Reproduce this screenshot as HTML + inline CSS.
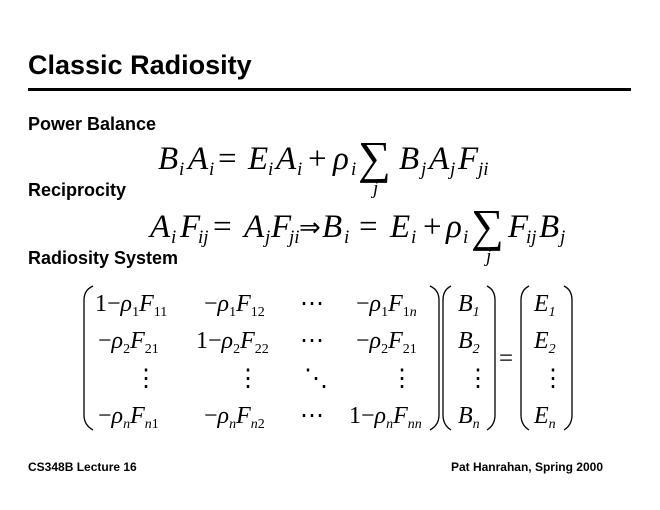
<!DOCTYPE html>
<html><head><meta charset="utf-8"><style>
html,body{margin:0;padding:0;background:#fff;}
svg{display:block;}
.h{font-family:"Liberation Sans",sans-serif;font-weight:bold;fill:#000;}
.m{font-family:"Liberation Serif",serif;font-style:italic;fill:#000;}
.r{font-family:"Liberation Serif",serif;fill:#000;}
</style></head><body>
<svg width="660" height="510" viewBox="0 0 660 510" xmlns="http://www.w3.org/2000/svg">
<text class="h" x="28" y="74" font-size="27">Classic Radiosity</text>
<rect x="28" y="88" width="603" height="3" fill="#000"/>
<text class="h" x="28" y="130" font-size="18">Power Balance</text>
<text class="h" x="28" y="196" font-size="18">Reciprocity</text>
<text class="h" x="28" y="264" font-size="18">Radiosity System</text>

<!-- Eq1 -->
<g font-size="33">
<text class="m" x="158" y="169">B</text><text class="m" x="179" y="175" font-size="19">i</text>
<text class="m" x="188" y="169">A</text><text class="m" x="209" y="175" font-size="19">i</text>
<text class="r" x="218" y="169">=</text>
<text class="m" x="248" y="169">E</text><text class="m" x="268" y="175" font-size="19">i</text>
<text class="m" x="276" y="169">A</text><text class="m" x="297" y="175" font-size="19">i</text>
<text class="r" x="308" y="169">+</text>
<text class="m" x="333" y="169">ρ</text><text class="m" x="351" y="175" font-size="19">i</text>
<text class="r" x="358" y="173" font-size="46">∑</text>
<text class="m" x="373" y="194" font-size="19">j</text>
<text class="m" x="399" y="169">B</text><text class="m" x="421" y="175" font-size="19">j</text>
<text class="m" x="429" y="169">A</text><text class="m" x="450" y="175" font-size="19">j</text>
<text class="m" x="458" y="169">F</text><text class="m" x="478" y="175" font-size="19">ji</text>
</g>

<!-- Eq2 -->
<g font-size="33">
<text class="m" x="150" y="237">A</text><text class="m" x="171" y="243" font-size="19">i</text>
<text class="m" x="180" y="237">F</text><text class="m" x="198" y="243" font-size="19">ij</text>
<text class="r" x="213" y="237">=</text>
<text class="m" x="244" y="237">A</text><text class="m" x="265" y="243" font-size="19">j</text>
<text class="m" x="271" y="237">F</text><text class="m" x="289" y="243" font-size="19">ji</text>
<text class="r" x="299" y="236" font-size="26">⇒</text>
<text class="m" x="322" y="237">B</text><text class="m" x="344" y="243" font-size="19">i</text>
<text class="r" x="359" y="237">=</text>
<text class="m" x="390" y="237">E</text><text class="m" x="411" y="243" font-size="19">i</text>
<text class="r" x="423" y="237">+</text>
<text class="m" x="446" y="237">ρ</text><text class="m" x="463" y="243" font-size="19">i</text>
<text class="r" x="471" y="241" font-size="46">∑</text>
<text class="m" x="486" y="262" font-size="19">j</text>
<text class="m" x="508" y="237">F</text><text class="m" x="526" y="243" font-size="19">ij</text>
<text class="m" x="539" y="237">B</text><text class="m" x="560" y="243" font-size="19">j</text>
</g>

<!-- Matrix brackets -->
<g fill="none" stroke="#000" stroke-width="1.3">
<path d="M93,286 Q84,290 84,300 L84,415 Q84,425 93,430"/>
<path d="M430,286 Q439,290 439,300 L439,415 Q439,425 430,430"/>
<path d="M451,286 Q443,290 443,300 L443,415 Q443,425 451,430"/>
<path d="M487,286 Q495,290 495,300 L495,415 Q495,425 487,430"/>
<path d="M529,286 Q521,290 521,300 L521,415 Q521,425 529,430"/>
<path d="M564,286 Q572,290 572,300 L572,415 Q572,425 564,430"/>
</g>
<text class="r" x="499" y="366" font-size="25">=</text>

<g font-size="24">
<text class="r" x="95" y="311">1−<tspan class="m">ρ</tspan><tspan class="r" font-size="14" dy="5">1</tspan><tspan class="m" dy="-5">F</tspan><tspan class="r" font-size="14" dy="5">11</tspan></text>
<text class="r" x="204" y="311">−<tspan class="m">ρ</tspan><tspan font-size="14" dy="5">1</tspan><tspan class="m" dy="-5">F</tspan><tspan font-size="14" dy="5">12</tspan></text>
<text class="r" x="300" y="311">⋯</text>
<text class="r" x="356" y="311">−<tspan class="m">ρ</tspan><tspan font-size="14" dy="5">1</tspan><tspan class="m" dy="-5">F</tspan><tspan font-size="14" dy="5">1</tspan><tspan class="m" font-size="14">n</tspan></text>
<text class="r" x="98" y="348">−<tspan class="m">ρ</tspan><tspan font-size="14" dy="5">2</tspan><tspan class="m" dy="-5">F</tspan><tspan font-size="14" dy="5">21</tspan></text>
<text class="r" x="196" y="348">1−<tspan class="m">ρ</tspan><tspan font-size="14" dy="5">2</tspan><tspan class="m" dy="-5">F</tspan><tspan font-size="14" dy="5">22</tspan></text>
<text class="r" x="300" y="348">⋯</text>
<text class="r" x="356" y="348">−<tspan class="m">ρ</tspan><tspan font-size="14" dy="5">2</tspan><tspan class="m" dy="-5">F</tspan><tspan font-size="14" dy="5">21</tspan></text>
<text class="r" x="134" y="386">⋮</text>
<text class="r" x="236" y="386">⋮</text>
<text class="r" x="304" y="386">⋱</text>
<text class="r" x="390" y="386">⋮</text>
<text class="r" x="98" y="423">−<tspan class="m">ρ</tspan><tspan class="m" font-size="14" dy="5">n</tspan><tspan class="m" dy="-5">F</tspan><tspan class="m" font-size="14" dy="5">n</tspan><tspan font-size="14">1</tspan></text>
<text class="r" x="204" y="423">−<tspan class="m">ρ</tspan><tspan class="m" font-size="14" dy="5">n</tspan><tspan class="m" dy="-5">F</tspan><tspan class="m" font-size="14" dy="5">n</tspan><tspan font-size="14">2</tspan></text>
<text class="r" x="300" y="423">⋯</text>
<text class="r" x="349" y="423">1−<tspan class="m">ρ</tspan><tspan class="m" font-size="14" dy="5">n</tspan><tspan class="m" dy="-5">F</tspan><tspan class="m" font-size="14" dy="5">nn</tspan></text>
<text class="m" x="458" y="311">B<tspan class="r" font-size="14" dy="5">1</tspan></text>
<text class="m" x="458" y="348">B<tspan class="r" font-size="14" dy="5">2</tspan></text>
<text class="r" x="466" y="386">⋮</text>
<text class="m" x="458" y="423">B<tspan font-size="14" dy="5">n</tspan></text>
<text class="m" x="534" y="311">E<tspan class="r" font-size="14" dy="5">1</tspan></text>
<text class="m" x="534" y="348">E<tspan class="r" font-size="14" dy="5">2</tspan></text>
<text class="r" x="541" y="386">⋮</text>
<text class="m" x="534" y="423">E<tspan font-size="14" dy="5">n</tspan></text>
</g>

<text class="h" x="28" y="471" font-size="12">CS348B Lecture 16</text>
<text class="h" x="603" y="471" font-size="12" text-anchor="end">Pat Hanrahan, Spring 2000</text>
</svg>
</body></html>
